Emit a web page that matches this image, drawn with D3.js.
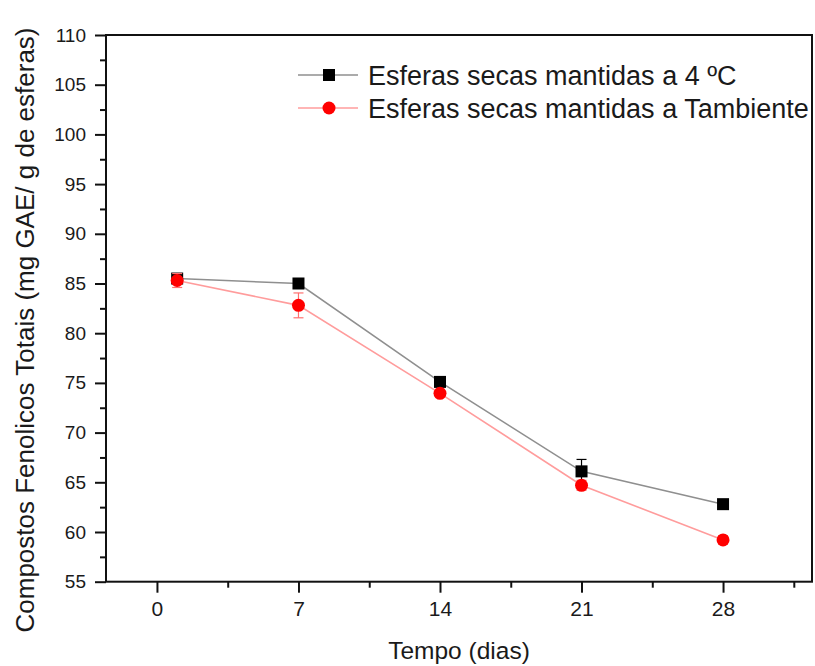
<!DOCTYPE html>
<html>
<head>
<meta charset="utf-8">
<script src="https://cdn.jsdelivr.net/npm/d3@7"></script>
<style>
    body{margin:0;background:#fff;}
    text{font-family:"Liberation Sans",Arial,sans-serif;fill:#1a1a1a;}
</style>
</head>
<body>
<div id="canvas"></div>
<script>
// valores
var dias = [1, 7, 14, 21, 28];
var frio = [85.5, 85.0, 75.1, 66.1, 62.8];
var frioErro = [0.3, 0.3, 0.3, 1.2, 0.3];
var ambiente = [85.3, 82.8, 73.95, 64.7, 59.2];
var ambienteErro = [0.7, 1.25, 0.3, 0.5, 0.4];
var xTicks = [0, 7, 14, 21, 28];
var xMinor = [3.5, 10.5, 17.5, 24.5, 31.5];
var yTicks = [55, 60, 65, 70, 75, 80, 85, 90, 95, 100, 105, 110];
var yMinor = [57.5, 62.5, 67.5, 72.5, 77.5, 82.5, 87.5, 92.5, 97.5, 102.5, 107.5];
var legendas = ["Esferas secas mantidas a 4 \u00baC", "Esferas secas mantidas a Tambiente"];

(function(){

    var svg = d3.select("#canvas").append("svg").attr("width",815).attr("height",666);

    var left = 106, right = 812, top = 35, bottom = 581.7;
    var x = d3.scaleLinear().domain([-2.52, 32.4]).range([left, right]);
    var y = d3.scaleLinear().domain([55, 110]).range([bottom, top]);

    function drawAxis(axis, tx, ty){
        var g = svg.append("g").attr("transform","translate(" + tx + "," + ty + ")").call(axis);
        g.select(".domain").remove();
        g.selectAll(".tick line").attr("stroke","#111").attr("stroke-width",2);
        return g;
    }

    // eixo x
    var gx = drawAxis(d3.axisBottom(x).tickValues(xTicks).tickSize(11).tickPadding(8), 0, bottom);
    gx.selectAll("text").attr("font-size",21).attr("fill","#1a1a1a").style("font-family",null);
    drawAxis(d3.axisBottom(x).tickValues(xMinor).tickSize(6).tickFormat(""), 0, bottom);

    // eixo y
    var gy = drawAxis(d3.axisLeft(y).tickValues(yTicks).tickSize(11).tickPadding(9), left, 0);
    gy.selectAll("text").attr("font-size",19).attr("fill","#1a1a1a").style("font-family",null);
    drawAxis(d3.axisLeft(y).tickValues(yMinor).tickSize(6).tickFormat(""), left, 0);

    // moldura
    svg.append("rect")
        .attr("x",left).attr("y",top)
        .attr("width",right-left).attr("height",bottom-top)
        .attr("fill","none").attr("stroke","#111").attr("stroke-width",2);

    // titulos
    svg.append("text")
        .attr("x",(left+right)/2).attr("y",659)
        .attr("text-anchor","middle").attr("font-size",24.5)
        .text("Tempo (dias)");

    svg.append("text")
        .attr("transform","translate(34,330) rotate(-90)")
        .attr("text-anchor","middle").attr("font-size",26)
        .text("Compostos Fenolicos Totais (mg GAE/ g de esferas)");

    function drawSeries(valores, erros, lineColor, errColor, shape){
        var pts = dias.map(function(d,i){ return {d:d, v:valores[i], e:erros[i]}; });

        svg.append("path")
            .datum(pts)
            .attr("fill","none").attr("stroke",lineColor).attr("stroke-width",1.6)
            .attr("d", d3.line().x(function(p){return x(p.d);}).y(function(p){return y(p.v);}));

        var eb = svg.append("g").attr("stroke",errColor).attr("stroke-width",1.2);
        pts.forEach(function(p){
            eb.append("line").attr("x1",x(p.d)).attr("x2",x(p.d)).attr("y1",y(p.v-p.e)).attr("y2",y(p.v+p.e));
            eb.append("line").attr("x1",x(p.d)-5).attr("x2",x(p.d)+5).attr("y1",y(p.v-p.e)).attr("y2",y(p.v-p.e));
            eb.append("line").attr("x1",x(p.d)-5).attr("x2",x(p.d)+5).attr("y1",y(p.v+p.e)).attr("y2",y(p.v+p.e));
        });

        var marks = svg.append("g");
        pts.forEach(function(p){ shape(marks, x(p.d), y(p.v)); });
    }

    function square(g, cx, cy){
        return g.append("rect").attr("x",cx-6).attr("y",cy-6).attr("width",12).attr("height",12).attr("fill","#000");
    }
    function circle(g, cx, cy){
        return g.append("circle").attr("cx",cx).attr("cy",cy).attr("r",6.5).attr("fill","#ff0000");
    }

    drawSeries(frio, frioErro, "#8f8f8f", "#000", square);
    drawSeries(ambiente, ambienteErro, "#ff9c9c", "#ff7070", circle);

    // legenda
    var leg = [
        {label:legendas[0], line:"#8f8f8f", shape:square, cy:75},
        {label:legendas[1], line:"#ff9c9c", shape:circle, cy:108}
    ];
    leg.forEach(function(l){
        svg.append("line").attr("x1",298).attr("x2",358).attr("y1",l.cy).attr("y2",l.cy)
            .attr("stroke",l.line).attr("stroke-width",1.6);
        l.shape(svg, 329, l.cy);
        svg.append("text").attr("x",368).attr("y",l.cy+9.5).attr("font-size",27).text(l.label);
    });

})();
</script>
</body>
</html>
